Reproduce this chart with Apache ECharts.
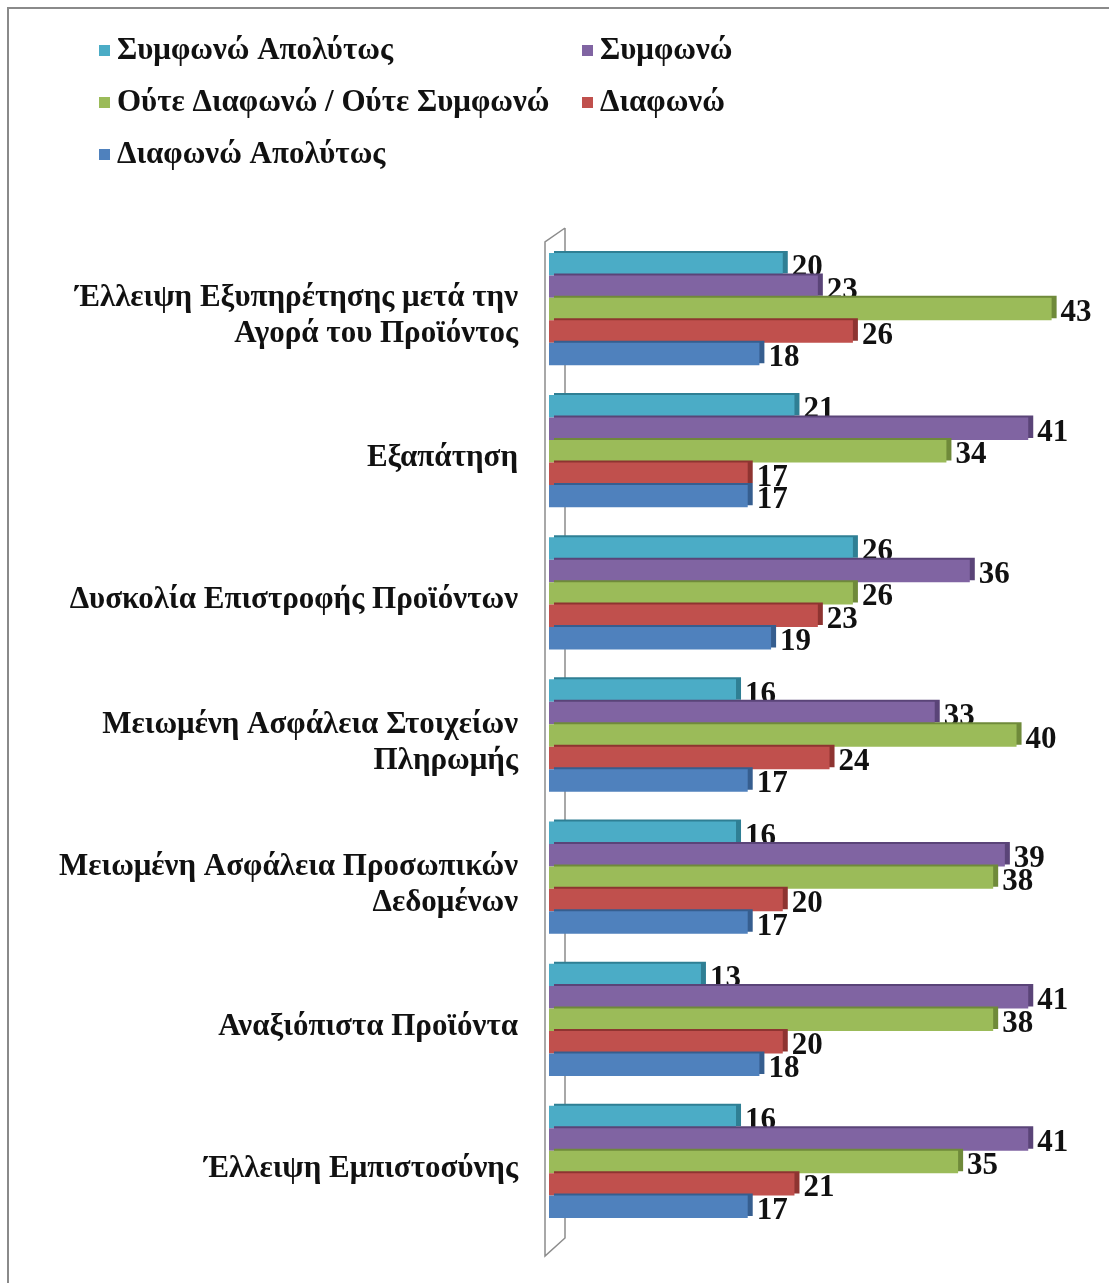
<!DOCTYPE html>
<html>
<head>
<meta charset="utf-8">
<script src="https://cdn.jsdelivr.net/npm/echarts@6/dist/echarts.min.js"></script>
<style>
  html, body { margin: 0; padding: 0; background: #fff; }
  #chart { width: 1109px; height: 1283px; }
</style>
</head>
<body>
<div id="chart"></div>
<script>
// Survey categories (top to bottom)
const categories = [
  'Έλλειψη Εξυπηρέτησης μετά την\nΑγορά του Προϊόντος',
  'Εξαπάτηση',
  'Δυσκολία Επιστροφής Προϊόντων',
  'Μειωμένη Ασφάλεια Στοιχείων\nΠληρωμής',
  'Μειωμένη Ασφάλεια Προσωπικών\nΔεδομένων',
  'Αναξιόπιστα Προϊόντα',
  'Έλλειψη Εμπιστοσύνης'
];

const seriesNames = [
  'Συμφωνώ Απολύτως',
  'Συμφωνώ',
  'Ούτε Διαφωνώ / Ούτε Συμφωνώ',
  'Διαφωνώ',
  'Διαφωνώ Απολύτως'
];

// Responses per category, one array per answer
const agreeStrongly    = [20, 21, 26, 16, 16, 13, 16];
const agree            = [23, 41, 36, 33, 39, 41, 41];
const neutral          = [43, 34, 26, 40, 38, 38, 35];
const disagree         = [26, 17, 23, 24, 20, 20, 21];
const disagreeStrongly = [18, 17, 19, 17, 17, 18, 17];

const values = [agreeStrongly, agree, neutral, disagree, disagreeStrongly];
const colors = ['#4BACC6', '#8064A2', '#9BBB59', '#C0504D', '#4F81BD'];
const sideColors = ['#2F7F94', '#5A4478', '#6F8A3A', '#8E3431', '#365E8F'];

const FONT = '"Liberation Serif", "DejaVu Serif", serif';
const FONT_SIZE = 31;

const gridLeft = 549, gridTop = 238, gridHeight = 995, gridRight = 34;

const series = seriesNames.map((name, i) => ({
  name: name,
  type: 'bar',
  data: values[i],
  barGap: '0%',
  barCategoryGap: '21%',
  itemStyle: {
    color: colors[i],
    shadowColor: sideColors[i],
    shadowOffsetX: 5,
    shadowOffsetY: -2,
    shadowBlur: 0
  },
  label: {
    show: true,
    position: 'right',
    distance: 9,
    offset: [0, 4],
    color: '#111',
    fontFamily: FONT,
    fontWeight: 'bold',
    fontSize: FONT_SIZE
  },
  z: 2 + i
}));

// Legend: two columns, three rows
const legendPos = [
  { left: 99, top: 35 },
  { left: 582, top: 35 },
  { left: 99, top: 87 },
  { left: 582, top: 87 },
  { left: 99, top: 139 }
];
const legends = seriesNames.map((name, i) => ({
  data: [name],
  left: legendPos[i].left,
  top: legendPos[i].top,
  padding: 0,
  icon: 'rect',
  itemWidth: 11,
  itemHeight: 11,
  itemGap: 0,
  selectedMode: false,
  textStyle: {
    fontFamily: FONT,
    fontWeight: 'bold',
    fontSize: FONT_SIZE,
    color: '#111',
    padding: [0, 0, 0, 2]
  }
}));

const chart = echarts.init(document.getElementById('chart'), null, { renderer: 'canvas' });
chart.setOption({
  backgroundColor: '#fff',
  animation: false,
  color: colors,
  legend: legends,
  grid: { left: gridLeft, top: gridTop, height: gridHeight, right: gridRight, containLabel: false },
  xAxis: {
    type: 'value',
    min: 0,
    max: 45,
    show: false
  },
  yAxis: {
    type: 'category',
    data: categories,
    inverse: true,
    axisLine: { show: false },
    axisTick: { show: false },
    axisLabel: {
      margin: 31,
      fontFamily: FONT,
      fontWeight: 'bold',
      fontSize: FONT_SIZE,
      lineHeight: 36,
      color: '#111',
      align: 'right',
      // a short spacer line above sets the labels slightly below the group centre
      formatter: v => '{p|}\n' + v,
      rich: { p: { lineHeight: 14, fontSize: 1 } }
    }
  },
  graphic: [
    // outer frame
    {
      type: 'rect',
      shape: { x: 8, y: 8, width: 1300, height: 1400 },
      style: { fill: null, stroke: '#8a8a8a', lineWidth: 2 },
      silent: true, z: 0
    },
    // side wall of the plot
    {
      type: 'polyline',
      shape: { points: [[565, 228], [545, 242], [545, 1256], [565, 1238], [565, 228]] },
      style: { fill: null, stroke: '#8c8c8c', lineWidth: 1.5 },
      silent: true, z: 0
    }
  ],
  series: series
});
</script>
</body>
</html>
